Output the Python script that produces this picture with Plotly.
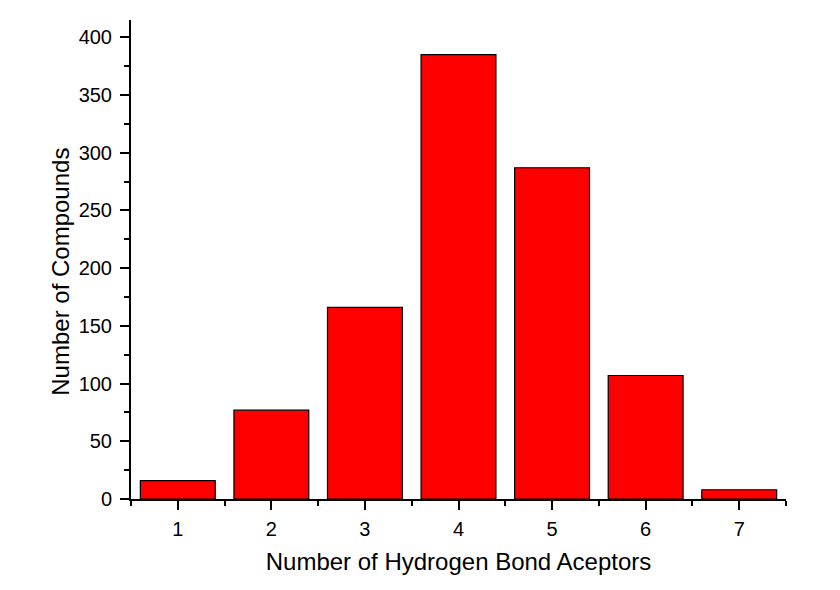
import plotly.graph_objects as go

categories = [1, 2, 3, 4, 5, 6, 7]
counts = [16, 77, 166, 385, 287, 107, 8]

fig = go.Figure(go.Bar(
    x=categories, y=counts,
    marker=dict(color="#ff0000", line=dict(color="black", width=1.2)),
    width=0.8,
))

fig.update_layout(
    width=840, height=590,
    margin=dict(l=123, r=62, t=12, b=99),
    paper_bgcolor="white", plot_bgcolor="white",
    font=dict(family="Liberation Sans, Arial, sans-serif", size=18, color="black"),
    showlegend=False,
)
fig.update_xaxes(
    range=[0.5, 7.5], tickmode="array", tickvals=categories,
    tickfont=dict(size=20, family="Liberation Sans, Arial, sans-serif"),
    ticklabelstandoff=2,
    showline=True, linecolor="black", linewidth=2,
    ticks="outside", ticklen=9, tickwidth=2, tickcolor="black",
    minor=dict(tickmode="array", tickvals=[0.5, 1.5, 2.5, 3.5, 4.5, 5.5, 6.5, 7.5],
               ticks="outside", ticklen=5, tickwidth=2, tickcolor="black"),
    showgrid=False, zeroline=False,
    title=dict(text="Number of Hydrogen Bond Aceptors", font=dict(size=24), standoff=14),
)
fig.update_yaxes(
    range=[0, 415], tick0=0, dtick=50,
    tickfont=dict(size=20, family="Liberation Sans, Arial, sans-serif"),
    ticklabelstandoff=4,
    showline=True, linecolor="black", linewidth=2,
    ticks="outside", ticklen=9, tickwidth=2, tickcolor="black",
    minor=dict(dtick=25, ticks="outside", ticklen=5, tickwidth=2, tickcolor="black"),
    showgrid=False, zeroline=False,
)
fig.add_annotation(
    text="Number of Compounds", textangle=-90, showarrow=False,
    xref="paper", yref="paper", x=-0.108, y=0.475,
    xanchor="center", yanchor="middle", font=dict(size=24),
)

fig.write_html("out.html")
